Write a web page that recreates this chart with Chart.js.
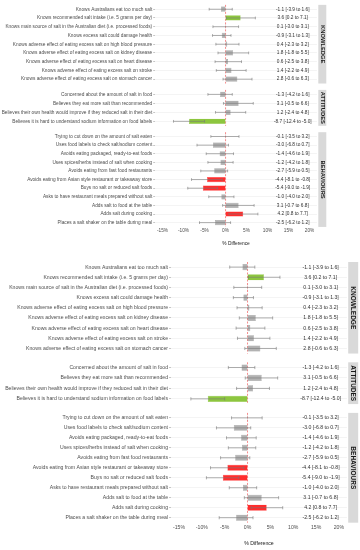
<!DOCTYPE html>
<html><head><meta charset="utf-8">
<script src="https://cdn.jsdelivr.net/npm/chart.js@4/dist/chart.umd.min.js"></script>
<style>html,body{margin:0;padding:0;background:#fff;width:360px;height:550px;overflow:hidden;position:relative}canvas{display:block}</style>
</head><body>
<script>
// ---------- DATA ----------
const facetNames = ['KNOWLEDGE', 'ATTITUDES', 'BEHAVIOURS'];

const knowledgeItems = [
  'Knows Australians eat too much salt',
  'Knows recommended salt intake (i.e. 5 grams per day)',
  'Knows main source of salt in the Australian diet (i.e. processed foods)',
  'Knows excess salt could damage health',
  'Knows adverse effect of eating excess salt on high blood pressure',
  'Knows adverse effect of eating excess salt on kidney disease',
  'Knows adverse effect of eating excess salt on heart disease',
  'Knows adverse effect of eating excess salt on stroke',
  'Knows adverse effect of eating excess salt on stomach cancer'
];
const knowledgeDiff = [-1.1, 3.6, 0.1, -0.9, 0.4, 1.8, 0.6, 1.4, 2.8];
const knowledgeLow  = [-3.9, 0.2, -3.0, -3.1, -2.3, -1.8, -2.5, -2.2, -0.6];
const knowledgeHigh = [1.6, 7.1, 3.1, 1.3, 3.2, 5.5, 3.8, 4.9, 6.3];

const attitudeItems = [
  'Concerned about the amount of salt in food',
  'Believes they eat more salt than recommended',
  'Believes their own health would improve if they reduced salt in their diet',
  'Believes it is hard to understand sodium information on food labels'
];
const attitudeDiff = [-1.3, 3.1, 1.2, -8.7];
const attitudeLow  = [-4.2, -0.5, -2.4, -12.4];
const attitudeHigh = [1.6, 6.6, 4.8, -5.0];

const behaviourItems = [
  'Trying to cut down on the amount of salt eaten',
  'Uses food labels to check salt/sodium content',
  'Avoids eating packaged, ready-to-eat foods',
  'Uses spices/herbs instead of salt when cooking',
  'Avoids eating from fast food restaurants',
  'Avoids eating from Asian style restaurant or takeaway store',
  'Buys no salt or reduced salt foods',
  'Asks to have restaurant meals prepared without salt',
  'Adds salt to food at the table',
  'Adds salt during cooking',
  'Places a salt shaker on the table during meal'
];
const behaviourDiff = [-0.1, -3.0, -1.4, -1.2, -2.7, -4.4, -5.4, -1.0, 3.1, 4.2, -2.5];
const behaviourLow  = [-3.5, -6.8, -4.6, -4.2, -5.9, -8.1, -9.0, -4.0, -0.7, 0.8, -6.2];
const behaviourHigh = [3.2, 0.7, 1.9, 1.8, 0.5, -0.8, -1.9, 2.0, 6.8, 7.7, 1.2];

const xTickValues = [-15, -10, -5, 0, 5, 10, 15, 20];
const xTitle = '% Difference';

// ---------- STYLE / LAYOUT ----------
const FAMILY = '"Liberation Sans", Arial, Helvetica, sans-serif';
const X_MIN = -16.75, X_MAX = 21.75, LABEL_AT = 16;
const GREEN = 'rgba(141,198,63,1)', RED = 'rgba(255,45,45,1)', GREY = 'rgba(170,170,170,0.9)';

const facets = [
  { name: facetNames[0], items: knowledgeItems, diff: knowledgeDiff, low: knowledgeLow, high: knowledgeHigh, hi: GREEN },
  { name: facetNames[1], items: attitudeItems, diff: attitudeDiff, low: attitudeLow, high: attitudeHigh, hi: GREEN },
  { name: facetNames[2], items: behaviourItems, diff: behaviourDiff, low: behaviourLow, high: behaviourHigh, hi: RED }
];

const copies = [
  { axisW: 155.2, panelR: 316.9, s: 8.55, tops: [4.87, 89.9, 132.2], stripGap: 1.4, stripW: 8,
    font: 4.75, stripFont: 5.8, tickPad: 1.2, titleFont: 4.8, titlePad: 6.2, bottom: 246.85 },
  { axisW: 171, panelR: 346.9, s: 9.95, tops: [262, 362.3, 412.9], stripGap: 1.3, stripW: 10,
    font: 5.15, stripFont: 6.5, tickPad: 1.6, titleFont: 5.2, titlePad: 8.7, bottom: 547.1 }
];

const fmt = v => v.toFixed(1);

function makeDecor(f, c) {
  return {
    id: 'decor',
    beforeDatasetsDraw(chart) {
      const { ctx, chartArea: a, scales: { x } } = chart;
      const zx = x.getPixelForValue(0);
      ctx.save();
      ctx.strokeStyle = 'rgba(240,70,70,0.9)';
      ctx.lineWidth = 0.7;
      ctx.setLineDash([2, 1.5]);
      ctx.beginPath(); ctx.moveTo(zx, a.top); ctx.lineTo(zx, a.bottom); ctx.stroke();
      ctx.restore();
    },
    afterDatasetsDraw(chart) {
      const { ctx, chartArea: a, scales: { x } } = chart;
      const meta = chart.getDatasetMeta(0);
      ctx.save();
      // error bars
      ctx.strokeStyle = 'rgba(120,120,120,0.85)';
      ctx.lineWidth = 0.7;
      const cap = c.s * 0.16;
      meta.data.forEach((bar, i) => {
        const y = bar.y;
        const x1 = x.getPixelForValue(f.low[i]);
        const x2 = x.getPixelForValue(f.high[i]);
        ctx.beginPath();
        ctx.moveTo(x1, y); ctx.lineTo(x2, y);
        ctx.moveTo(x1, y - cap); ctx.lineTo(x1, y + cap);
        ctx.moveTo(x2, y - cap); ctx.lineTo(x2, y + cap);
        ctx.stroke();
      });
      // value labels
      ctx.fillStyle = '#333333';
      ctx.font = `${c.font}px ${FAMILY}`;
      ctx.textAlign = 'center';
      ctx.textBaseline = 'middle';
      const lx = x.getPixelForValue(LABEL_AT);
      meta.data.forEach((bar, i) => {
        ctx.fillText(`${fmt(f.diff[i])} [${fmt(f.low[i])} to ${fmt(f.high[i])}]`, lx, bar.y);
      });
      // facet strip
      const sx = a.right + c.stripGap;
      ctx.fillStyle = '#d9d9d9';
      ctx.fillRect(sx, a.top, c.stripW, a.bottom - a.top);
      ctx.translate(sx + c.stripW / 2, (a.top + a.bottom) / 2);
      ctx.rotate(Math.PI / 2);
      ctx.fillStyle = '#1a1a1a';
      ctx.font = `bold ${c.stripFont}px ${FAMILY}`;
      ctx.fillText(f.name, 0, 0);
      ctx.restore();
    }
  };
}

function build(c) {
  facets.forEach((f, fi) => {
    const isLast = fi === facets.length - 1;
    const panelTop = c.tops[fi];
    const panelH = (f.items.length + 0.2) * c.s;
    const canvasTop = Math.floor(panelTop) - 6;
    const padTop = panelTop - canvasTop;
    let canvasH, padBottom;
    if (isLast) {
      canvasH = Math.round(c.bottom - canvasTop);
      padBottom = 0;
    } else {
      canvasH = Math.ceil(padTop + panelH + 6);
      padBottom = canvasH - padTop - panelH;
    }
    const canvas = document.createElement('canvas');
    canvas.width = 360; canvas.height = canvasH;
    canvas.style.cssText = `position:absolute;left:0;top:${canvasTop}px;width:360px;height:${canvasH}px`;
    document.body.appendChild(canvas);

    const colors = f.diff.map((v, i) => (f.low[i] > 0 || f.high[i] < 0) ? f.hi : GREY);
    const borders = f.diff.map((v, i) => (f.low[i] > 0 || f.high[i] < 0) ? f.hi : 'rgba(140,140,140,1)');

    new Chart(canvas, {
      type: 'bar',
      data: {
        labels: f.items,
        datasets: [{
          data: f.diff,
          backgroundColor: colors,
          borderColor: borders,
          borderWidth: 0.4,
          borderSkipped: false,
          barPercentage: 0.6,
          categoryPercentage: 1
        }]
      },
      options: {
        indexAxis: 'y',
        responsive: false,
        animation: false,
        events: [],
        layout: { padding: { left: 0, right: 360 - c.panelR, top: padTop, bottom: padBottom } },
        plugins: { legend: { display: false }, tooltip: { enabled: false } },
        scales: {
          x: {
            type: 'linear', min: X_MIN, max: X_MAX, display: isLast,
            grid: { display: false, drawTicks: false },
            border: { display: false },
            afterBuildTicks: s => { s.ticks = xTickValues.map(v => ({ value: v })); },
            ticks: { padding: c.tickPad, color: '#4d4d4d', autoSkip: false, maxRotation: 0,
                     font: { size: c.font, family: FAMILY }, callback: v => v + '%' },
            title: { display: true, text: xTitle, color: '#1a1a1a',
                     font: { size: c.titleFont, family: FAMILY }, padding: { top: c.titlePad, bottom: 0 } }
          },
          y: {
            type: 'category', offset: true,
            grid: { offset: false, color: '#ececec', lineWidth: 0.6, drawTicks: true, tickLength: 2,
                    tickColor: '#a0a0a0', tickWidth: 0.6 },
            border: { display: false },
            ticks: { padding: 1, color: '#4d4d4d', autoSkip: false, font: { size: c.font, family: FAMILY } },
            afterFit: s => { s.width = c.axisW; }
          }
        }
      },
      plugins: [makeDecor(f, c)]
    });
  });
}

copies.forEach(build);
</script>
</body></html>
